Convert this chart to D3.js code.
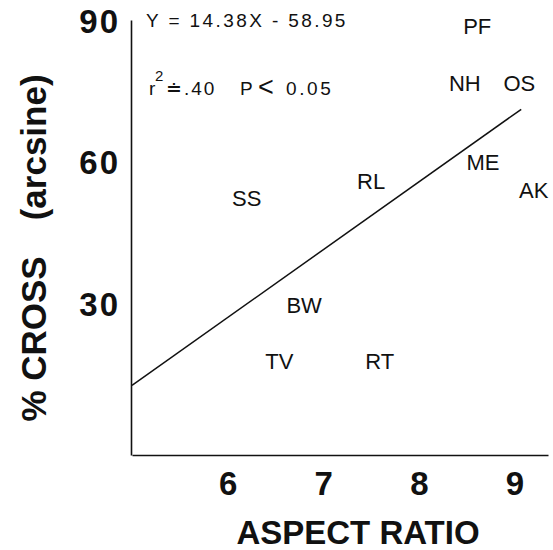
<!DOCTYPE html>
<html>
<head>
<meta charset="utf-8">
<script src="https://cdn.jsdelivr.net/npm/d3@7"></script>
<style>
  html, body { margin: 0; padding: 0; background: #fff; }
  svg { display: block; }
  text { font-family: "Liberation Sans", Arial, Helvetica, sans-serif; fill: #111; }
</style>
</head>
<body>
<svg id="chart" width="553" height="550"></svg>
<script>
// ---- data ----
const categories  = ["PF", "NH", "OS", "ME", "AK", "RL", "SS", "BW", "TV", "RT"];
const aspectRatio = [8.61, 8.48, 9.05, 8.67, 9.20, 7.50, 6.20, 6.80, 6.54, 7.59];
const pctCross    = [89.1, 77.0, 77.0, 60.3, 54.4, 56.3, 52.7, 30.0, 18.1, 18.1];
const xTicks = [6, 7, 8, 9];
const yTicks = [30, 60, 90];
const regSlope = 14.38;
const regIntercept = -58.95;
const regXRange = [5, 9.07];
const xTitle = "ASPECT RATIO";
const yTitleA = "% CROSS";
const yTitleB = "(arcsine)";
const eqText = "Y = 14.38X - 58.95";

const svg = d3.select("#chart");
const x = d3.scaleLinear().domain([5, 9.35]).range([132, 548]);
const y = d3.scaleLinear().domain([-1.8, 90.4]).range([455, 20]);

// axes
const xAxis = svg.append("g").attr("transform", `translate(0,${y.range()[0]})`)
  .call(d3.axisBottom(x).tickValues(xTicks).tickSize(0).tickPadding(17).tickFormat(d3.format("d")));
const yAxis = svg.append("g").attr("transform", `translate(${x.range()[0] - 1},0)`)
  .call(d3.axisLeft(y).tickValues(yTicks).tickSize(0).tickPadding(11).tickFormat(d3.format("d")));
[xAxis, yAxis].forEach(g => {
  g.select(".domain").attr("stroke", "#111").attr("stroke-width", 1.6);
  g.selectAll("text").attr("font-family", "Liberation Sans, Arial, sans-serif")
    .attr("font-size", 33).attr("font-weight", "bold").attr("fill", "#111");
});
yAxis.selectAll("text").attr("letter-spacing", 2);

// regression line
const regPts = regXRange.map(v => [x(v), y(regSlope * v + regIntercept)]);
svg.append("path").attr("d", d3.line()(regPts))
  .attr("stroke", "#111").attr("stroke-width", 1.5).attr("fill", "none");

// point labels
const pts = categories.map((c, i) => ({ c, x: aspectRatio[i], y: pctCross[i] }));
svg.append("g").selectAll("text").data(pts).join("text")
  .attr("x", d => x(d.x)).attr("y", d => y(d.y))
  .attr("dy", "0.36em").attr("text-anchor", "middle")
  .attr("font-size", 22).text(d => d.c);

// equation annotations
svg.append("text").attr("x", 146).attr("y", 27)
  .attr("font-size", 19).attr("letter-spacing", 2.4).text(eqText);
const stat = svg.append("text").attr("y", 95).attr("font-size", 19).attr("letter-spacing", 2);
stat.append("tspan").attr("x", 149).text("r");
stat.append("tspan").attr("x", 155).attr("dy", -14).attr("font-size", 15).text("2");
stat.append("tspan").attr("x", 166).attr("dy", 14).text("\u2250.40");
stat.append("tspan").attr("x", 240).text("P");
stat.append("tspan").attr("x", 258).attr("dy", 1).attr("font-size", 27).attr("font-weight", 300).text("<");
stat.append("tspan").attr("x", 286).attr("dy", -1).attr("letter-spacing", 2.6).text("0.05");

// axis titles
svg.append("text").attr("x", 358).attr("y", 544)
  .attr("text-anchor", "middle").attr("font-size", 33).attr("font-weight", "bold")
  .text(xTitle);
const yt = svg.append("text").attr("transform", "translate(46,248) rotate(-90)")
  .attr("text-anchor", "middle").attr("font-size", 35).attr("font-weight", "bold");
yt.append("tspan").text(yTitleA);
yt.append("tspan").attr("dx", 36).text(yTitleB);
</script>
</body>
</html>
